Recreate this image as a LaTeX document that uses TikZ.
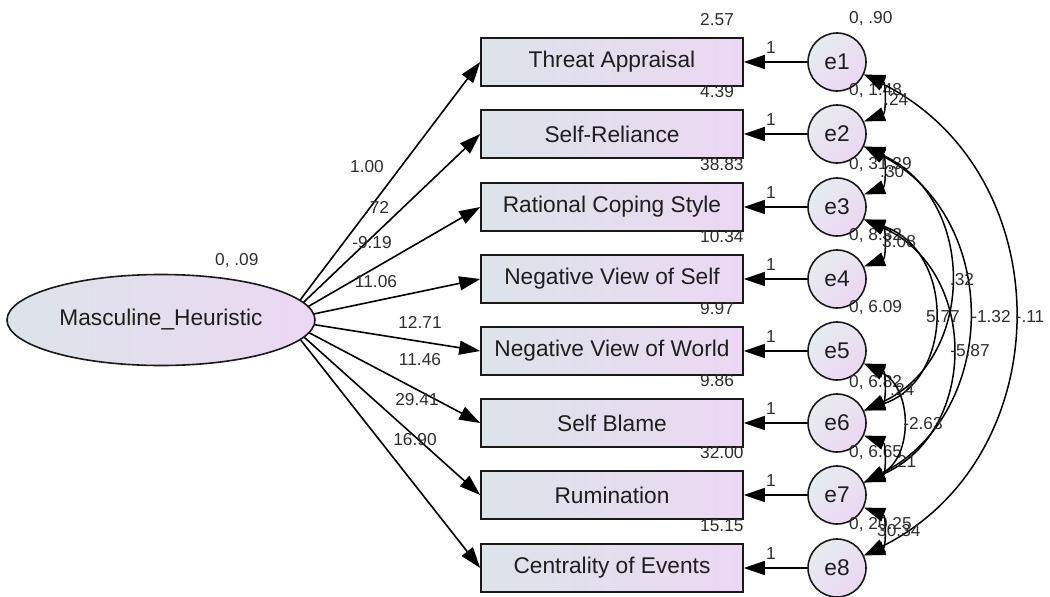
\documentclass[tikz,border=0pt]{standalone}
\usepackage{fontspec}
\setmainfont{Liberation Sans}
\usetikzlibrary{arrows.meta,shapes.geometric,backgrounds}
\definecolor{txt}{HTML}{1E1E1E}
\definecolor{lbl}{HTML}{2E2E2E}
\definecolor{lblue}{HTML}{DCE4E9}
\definecolor{lpurp}{HTML}{ECD7F3}
\begin{document}
\begin{tikzpicture}[x=1pt,y=-1pt,
  box/.style={draw=black!90, line width=1.6pt, minimum width=262pt, minimum height=48pt,
    inner sep=0pt, left color=lblue, right color=lpurp, text=txt,
    font=\fontsize{22.7}{24}\selectfont},
  err/.style={circle, draw=black!90, line width=1.6pt, minimum size=58pt, inner sep=0pt,
    top color=lblue!70!white, bottom color=lpurp, shading angle=45, text=txt,
    font=\fontsize{22.7}{24}\selectfont},
  lat/.style={ellipse, draw=black!90, line width=1.6pt, minimum width=308pt, minimum height=91pt,
    inner sep=0pt, left color=lblue, right color=lpurp, text=txt,
    font=\fontsize{22.7}{24}\selectfont},
  lab/.style={text=lbl, inner sep=0pt, font=\fontsize{17.3}{19}\selectfont},
  tip/.tip={Triangle[length=21pt,width=14pt]},
  reg/.style={line width=1.6pt, -tip},
  cov/.style={line width=1.5pt, tip-tip}]
\useasboundingbox (0,0) rectangle (1050,597);

% latent
\node[lat] (M) at (161,320) {Masculine\_Heuristic};
\coordinate (Mo) at (285,320);
\node[lab, anchor=west] (vM) at (215,261) {0, .09};

% boxes
\node[box] (b1) at (612,62)  {Threat Appraisal};
\node[box] (b2) at (612,134) {Self-Reliance};
\node[box] (b3) at (612,207) {Rational Coping Style};
\node[box] (b4) at (612,279) {Negative View of Self};
\node[box] (b5) at (612,351) {Negative View of World};
\node[box] (b6) at (612,423) {Self Blame};
\node[box] (b7) at (612,495) {Rumination};
\node[box] (b8) at (612,568) {Centrality of Events};

% intercepts
\node[lab, anchor=west] (i1) at (700,20)  {2.57};
\node[lab, anchor=west] (i2) at (700,92)  {4.39};
\node[lab, anchor=west] (i3) at (700,165) {38.83};
\node[lab, anchor=west] (i4) at (700,237) {10.34};
\node[lab, anchor=west] (i5) at (700,309) {9.97};
\node[lab, anchor=west] (i6) at (700,381) {9.86};
\node[lab, anchor=west] (i7) at (700,453) {32.00};
\node[lab, anchor=west] (i8) at (700,526) {15.15};

% errors
\node[err] (e1) at (837,62)  {e1};
\node[err] (e2) at (837,134) {e2};
\node[err] (e3) at (837,207) {e3};
\node[err] (e4) at (837,279) {e4};
\node[err] (e5) at (837,351) {e5};
\node[err] (e6) at (837,423) {e6};
\node[err] (e7) at (837,495) {e7};
\node[err] (e8) at (837,568) {e8};

% variances
\node[lab, anchor=west] (v1) at (849,19)  {0, .90};
\node[lab, anchor=west] (v2) at (849,91)  {0, 1.48};
\node[lab, anchor=west] (v3) at (849,165) {0, 31.39};
\node[lab, anchor=west] (v4) at (849,236) {0, 8.32};
\node[lab, anchor=west] (v5) at (849,308) {0, 6.09};
\node[lab, anchor=west] (v6) at (849,383) {0, 6.82};
\node[lab, anchor=west] (v7) at (849,453) {0, 6.65};
\node[lab, anchor=west] (v8) at (849,525) {0, 20.25};

% regression paths
\begin{scope}[on background layer]
\foreach \i in {1,...,8} \draw[reg] (Mo) -- (b\i.west);
\end{scope}
\node[lab] (p1) at (367,167) {1.00};
\node[lab] (p2) at (377,207) {.72};
\node[lab] (p3) at (372,243) {-9.19};
\node[lab] (p4) at (376,282) {11.06};
\node[lab] (p5) at (420,322) {12.71};
\node[lab] (p6) at (420,360) {11.46};
\node[lab] (p7) at (417,400) {29.41};
\node[lab] (p8) at (415,440) {16.90};

% error paths
\foreach \i/\y in {1/62,2/134,3/207,4/279,5/351,6/423,7/495,8/568} {
  \draw[reg] (e\i) -- (b\i.east);
  \node[lab] (one\i) at (771,\y-14) {1};
}

% short covariances
\draw[cov] (e1.-25) .. controls +(22,8) and +(22,-8) .. (e2.25);
\draw[cov] (e2.-25) .. controls +(22,8) and +(22,-8) .. (e3.25);
\draw[cov] (e3.-25) .. controls +(22,8) and +(22,-8) .. (e4.25);
\draw[cov] (e5.-25) .. controls +(22,8) and +(22,-8) .. (e6.25);
\draw[cov] (e6.-25) .. controls +(22,8) and +(22,-8) .. (e7.25);
\draw[cov] (e7.-25) .. controls +(22,8) and +(22,-8) .. (e8.25);
% long covariances
\draw[cov] (e1.-25) .. controls +(198,99) and +(198,-99) .. (e8.25);
\draw[cov] (e2.-25) .. controls +(137,70) and +(137,-70) .. (e7.25);
\draw[cov] (e2.-25) .. controls +(113,52) and +(113,-52) .. (e6.25);
\draw[cov] (e3.-25) .. controls +(91,31) and +(91,-31) .. (e6.25);
\draw[cov] (e3.-25) .. controls +(115,50) and +(115,-50) .. (e7.25);
\draw[cov] (e5.-25) .. controls +(49,25) and +(49,-25) .. (e7.25);

% covariance labels
\node[lab, anchor=west] (c12) at (884,99)  {.24};
\node[lab, anchor=west] (c23) at (880,172) {.30};
\node[lab, anchor=west] (c34) at (882,242) {3.08};
\node[lab, anchor=west] (c56) at (890,389) {.24};
\node[lab, anchor=west] (c67) at (892,461) {.21};
\node[lab, anchor=west] (c78) at (877,531) {30.34};
\node[lab] (c26) at (962,280) {.32};
\node[lab] (c36) at (943,317) {5.77};
\node[lab] (c27) at (991,317) {-1.32};
\node[lab] (c18) at (1030,317) {-.11};
\node[lab] (c37) at (970,351) {-5.87};
\node[lab] (c57) at (923,424) {-2.63};
\end{tikzpicture}
\end{document}
